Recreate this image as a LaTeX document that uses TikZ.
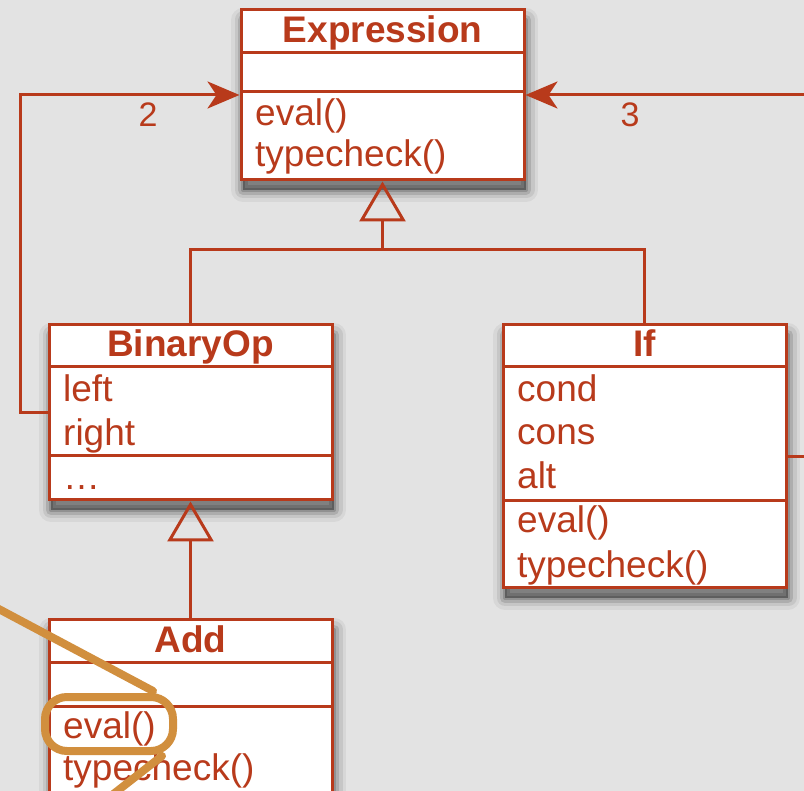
\documentclass[tikz,border=0pt]{standalone}
\usepackage{fontspec}
\setmainfont{Liberation Sans}
\usetikzlibrary{arrows.meta}
\definecolor{rust}{RGB}{184,58,27}
\definecolor{paper}{RGB}{227,227,227}
\definecolor{marker}{RGB}{209,143,62}
\tikzset{
  shadowlayer/.style 2 args={preaction={draw=black, line join=round, opacity=#1, line width=#2,
    transform canvas={shift={(2pt,-10pt)}}}},
  classbox/.style={draw=rust, fill=white, line width=3pt,
    shadowlayer={.05}{24pt}, shadowlayer={.08}{17pt}, shadowlayer={.12}{10pt}, shadowlayer={.16}{4pt},
    preaction={fill=black, opacity=.35, transform canvas={shift={(2pt,-10pt)}}}},
  rule/.style={draw=rust, line width=3pt},
  classname/.style={anchor=base, inner sep=0pt, text=rust, font=\fontsize{37}{44}\selectfont\bfseries},
  member/.style={anchor=base west, inner sep=0pt, text=rust, font=\fontsize{37}{44}\selectfont},
  multlabel/.style={anchor=base, inner sep=0pt, text=rust, font=\fontsize{34}{40}\selectfont},
  assoc/.style={draw=rust, line width=3pt, -{Stealth[length=32pt, width=27pt, inset=9pt]}},
  generalize/.style={draw=rust, line width=3pt},
  inherit/.style={generalize, -{Triangle[open, length=40pt, width=46pt]}},
  callout/.style={draw=marker, line width=8pt, line cap=round}
}
\begin{document}
\begin{tikzpicture}[x=1pt, y=-1pt]
  \useasboundingbox (0,0) rectangle (804,791);
  \fill[paper] (0,0) rectangle (804,791);
  \clip (0,0) rectangle (804,791);

  % class boxes
  \node[classbox, minimum width=283pt, minimum height=170pt] (expr) at (382.5,95) {};
  \node[classbox, minimum width=283pt, minimum height=175pt] (binop) at (190.5,412.5) {};
  \node[classbox, minimum width=283pt, minimum height=263pt] (if) at (644.5,456.5) {};
  \node[classbox, minimum width=283pt, minimum height=250pt, anchor=north] (add) at (190.5,618) {};

  % compartments
  \draw[rule] (241,53) -- (524,53);
  \draw[rule] (241,92) -- (524,92);
  \draw[rule] (49,367) -- (332,367);
  \draw[rule] (49,456) -- (332,456);
  \draw[rule] (503,367) -- (786,367);
  \draw[rule] (503,501) -- (786,501);
  \draw[rule] (49,662) -- (332,662);
  \draw[rule] (49,706) -- (332,706);

  % texts
  \node[classname] (exprname) at (382.5,43) {Expression};
  \node[member] (expreval) at (255,126) {eval()};
  \node[member] (exprcheck) at (255,167) {typecheck()};

  \node[classname] (binopname) at (190.5,357) {BinaryOp};
  \node[member] (binopleft) at (63,402) {left};
  \node[member] (binopright) at (63,446) {right};
  \node[member] (binopmore) at (63,490) {…};

  \node[classname] (ifname) at (644.5,357) {If};
  \node[member] (ifcond) at (517,402) {cond};
  \node[member] (ifcons) at (517,445) {cons};
  \node[member] (ifalt) at (517,489) {alt};
  \node[member] (ifeval) at (517,533) {eval()};
  \node[member] (ifcheck) at (517,578) {typecheck()};

  \node[classname] (addname) at (190.5,652) {Add};
  \node[member] (addeval) at (63,738) {eval()};
  \node[member] (addcheck) at (63,780) {typecheck()};

  % inheritance
  \draw[generalize] (binop.north) -- ++(0,-73.5) coordinate (split) -| (if.north);
  \draw[inherit] (split -| expr.south) -- (expr.south);
  \draw[inherit] (add.north) -- (binop.south);

  % associations
  \draw[assoc] (binop.west) -- ++(-27,0) |- (expr.west);
  \draw[assoc] (if.east) -- ++(40,0) |- (expr.east);
  \node[multlabel] (two) at (148,127) {2};
  \node[multlabel] (three) at (630,127) {3};

  % highlight
  \draw[callout, rounded corners=22pt] (45,697) rectangle (173,751);
  \draw[callout] (-20,599) -- (153,691);
  \draw[callout] (162,756) -- (93,810);
\end{tikzpicture}
\end{document}
